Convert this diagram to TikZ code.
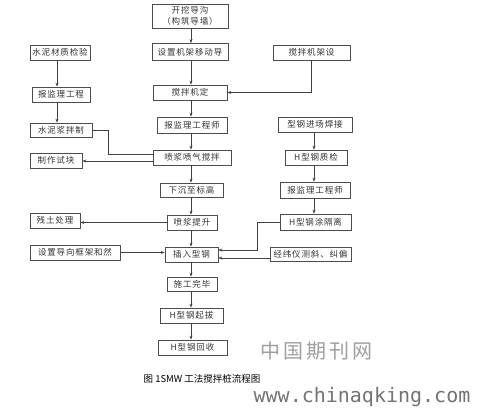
\documentclass[tikz,border=0pt]{standalone}
\usepackage{fontspec}
\setmainfont{Noto Sans CJK SC}
\newfontfamily\cjk[LetterSpace=10]{Noto Sans CJK SC}
\newfontfamily\capfont{Noto Sans CJK SC}
\newfontfamily\wmfont[LetterSpace=15]{Noto Sans CJK SC}
\newfontfamily\wmmono{DejaVu Sans Mono}
\usetikzlibrary{arrows.meta}
\begin{document}
\begin{tikzpicture}[x=1pt,y=-1pt,
  box/.style={draw=black!70, line width=0.7pt, inner sep=0pt, font=\cjk\fontsize{8.5}{10.5}\selectfont, text=black!80, align=center},
  arr/.style={draw=black!75, line width=0.7pt, -{Stealth[length=4pt,width=3pt]}},
  ln/.style={draw=black!75, line width=0.7pt}]
\useasboundingbox[fill=white] (0,0) rectangle (481,410);
% main column
\node[box, minimum width=76pt, minimum height=24pt] (n1) at (190,16) {开挖导沟\\（构筑导墙）};
\node[box, minimum width=76pt, minimum height=17pt] (n2) at (190,52) {设置机架移动导};
\node[box, minimum width=74pt, minimum height=15pt] (n3) at (190,92.5) {搅拌机定};
\node[box, minimum width=70pt, minimum height=16pt] (n4) at (192,125) {报监理工程师};
\node[box, minimum width=78pt, minimum height=15pt] (n5) at (192,157.5) {喷浆喷气搅拌};
\node[box, minimum width=63pt, minimum height=14pt] (n6) at (191.5,190) {下沉至标高};
\node[box, minimum width=50pt, minimum height=15pt] (n7) at (192,222.5) {喷浆提升};
\node[box, minimum width=53pt, minimum height=15pt] (n8) at (191.5,254.5) {插入型钢};
\node[box, minimum width=50pt, minimum height=14pt] (n9) at (192,284) {施工完毕};
\node[box, minimum width=63pt, minimum height=15pt] (n10) at (191.5,315.5) {H型钢起拔};
\node[box, minimum width=69pt, minimum height=15pt] (n11) at (192.5,347.5) {H型钢回收};
% left column
\node[box, minimum width=60pt, minimum height=15pt] (n12) at (60,52.5) {水泥材质检验};
\node[box, minimum width=58pt, minimum height=15pt] (n13) at (61,94.5) {报监理工程};
\node[box, minimum width=62pt, minimum height=14pt] (n14) at (61,130) {水泥浆拌制};
\node[box, minimum width=52pt, minimum height=15pt] (n15) at (56,160.5) {制作试块};
\node[box, minimum width=50pt, minimum height=15pt] (n16) at (55,220.5) {残土处理};
\node[box, minimum width=90pt, minimum height=15pt] (n17) at (75,252.5) {设置导向框架和然};
% right column
\node[box, minimum width=77pt, minimum height=15pt] (n18) at (311.5,52.5) {搅拌机架设};
\node[box, minimum width=74pt, minimum height=15pt] (n19) at (315,124.5) {型钢进场焊接};
\node[box, minimum width=62pt, minimum height=15pt] (n20) at (316,157.5) {H型钢质检};
\node[box, minimum width=70pt, minimum height=16pt] (n21) at (315,190) {报监理工程师};
\node[box, minimum width=71pt, minimum height=16pt] (n22) at (315.5,222) {H型钢涂隔离};
\node[box, minimum width=81pt, minimum height=14pt] (n23) at (310.5,254) {经纬仪测斜、纠偏};
% helper coordinates
\coordinate (mc) at (191,0);
\coordinate (lc) at (57,0);
\coordinate (rc) at (314,0);
\coordinate (j1) at (108,154);
\coordinate (j2) at (0,161);
\coordinate (j3) at (257,250);
\coordinate (j4) at (0,258);
% main column arrows
\foreach \a/\b in {n1/n2,n2/n3,n3/n4,n4/n5,n5/n6,n6/n7,n7/n8,n8/n9,n9/n10,n10/n11}
  \draw[arr] (\a.south -| mc) -- (\b.north -| mc);
% left column arrows
\draw[arr] (n12.south -| lc) -- (n13.north -| lc);
\draw[arr] (n13.south -| lc) -- (n14.north -| lc);
% right column arrows
\draw[arr] (n19.south -| rc) -- (n20.north -| rc);
\draw[arr] (n20.south -| rc) -- (n21.north -| rc);
\draw[arr] (n21.south -| rc) -- (n22.north -| rc);
% cross connectors
\draw[arr] (n18.south) |- (n3.east);
\draw[ln] (n14.east) -| (j1) -- (j1 -| n5.west);
\draw[arr] (n5.west |- j2) -- (n15.east |- j2);
\draw[arr] (n7.west) -- (n16.east |- n7.west);
\draw[arr] (n17.east) -- (n8.west |- n17.east);
\draw[arr] (n22.west) -| (j3) -- (n8.east |- j3);
\draw[arr] (n23.west |- j4) -- (n8.east |- j4);
% caption and watermark
\node[font=\capfont\fontsize{9.5}{11}\selectfont, inner sep=0pt] (cap) at (202,379) {图 1SMW 工法搅拌桩流程图};
\node[font=\wmfont\fontsize{20}{22}\selectfont, text=black!38, inner sep=0pt] (wm1) at (316,351) {中国期刊网};
\node[font=\wmmono\fontsize{20}{22}\selectfont, text=black!55, inner sep=0pt] (wm2) at (362,397) {www.chinaqking.com};
\end{tikzpicture}
\end{document}
